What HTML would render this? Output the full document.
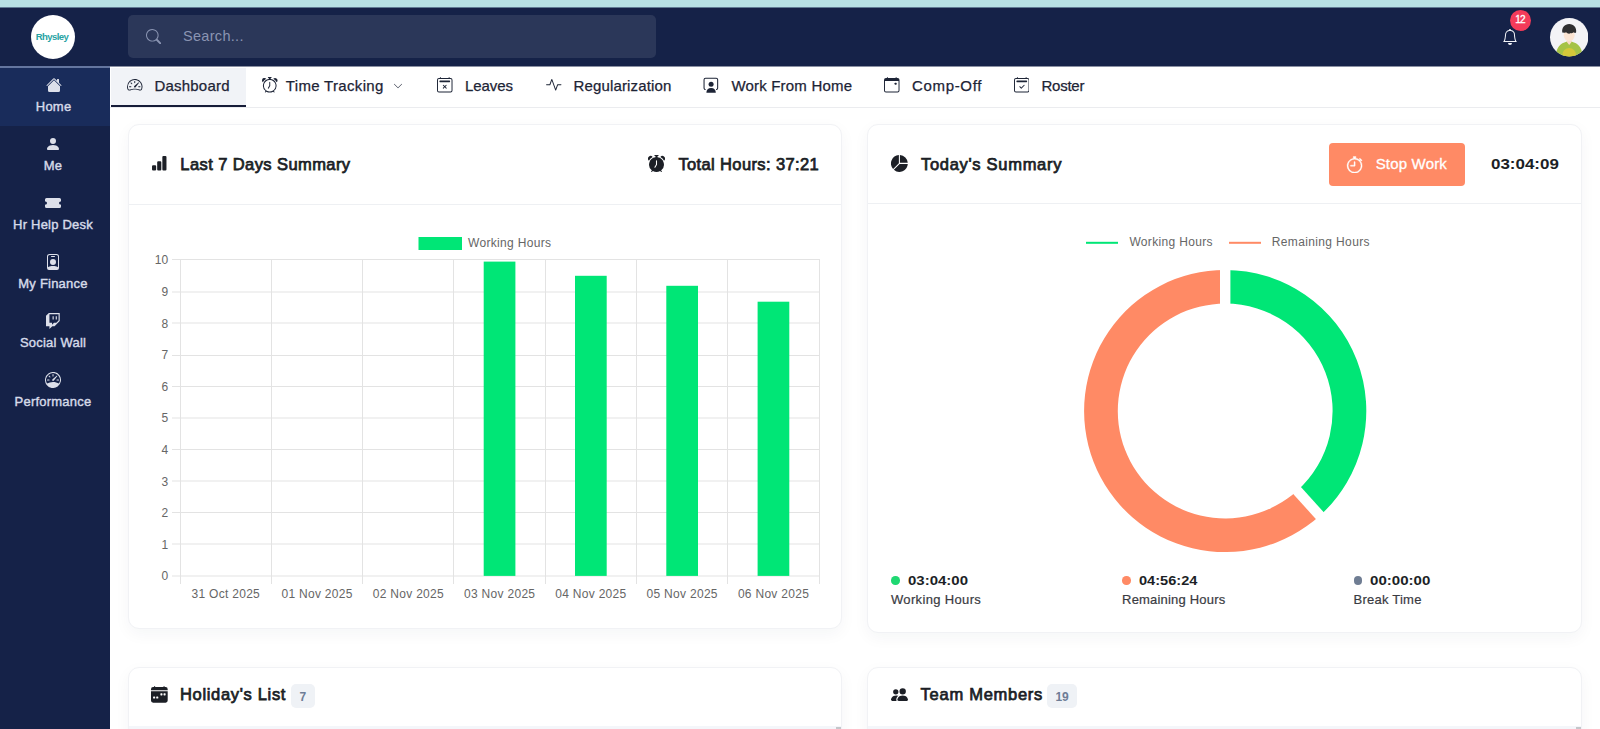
<!DOCTYPE html>
<html lang="en">
<head>
<meta charset="utf-8">
<title>Dashboard</title>
<style>
*{box-sizing:border-box;margin:0;padding:0}
html,body{width:1600px;height:729px;overflow:hidden;background:#fff}
body{position:relative;font-family:"Liberation Sans",sans-serif;color:#1f2937}
.abs{position:absolute}
.t{position:absolute;white-space:nowrap;line-height:1}
#strip{left:0;top:0;width:1600px;height:8px;background:#b7e1e5}
#header{left:0;top:7.1px;width:1600px;height:59.4px;background:#152248}
#sidebar{left:0;top:66px;width:110px;height:663px;background:#152248;border-top:2px solid #64769f}
#sidebar .active{position:absolute;left:0;top:0;width:110px;height:57.6px;background:#192c5b}
.sb{position:absolute;left:0;width:106px;text-align:center;color:#d6dbe9;font-size:13px;line-height:1;white-space:nowrap;letter-spacing:.22px;-webkit-text-stroke:.4px #d6dbe9}
.sbi{position:absolute;fill:#dde0ea}
#logo{left:31px;top:15px;width:44px;height:44px;border-radius:50%;background:#fff}
#search{left:128px;top:15px;width:528px;height:43px;border-radius:5px;background:#2b3759}
#tabs{left:110px;top:66.5px;width:1490px;height:41.5px;background:#fff;border-bottom:1px solid #ebecef}
#tabactive{left:111px;top:68px;width:135.3px;height:39px;background:#f1f3f7;border-bottom:2px solid #161c38}
.tab{color:#1d2436;font-size:15px;-webkit-text-stroke:.25px #1d2436}
.ti{position:absolute;fill:#1d2436}
.card{position:absolute;background:#fff;border:1px solid #f1f2f5;border-radius:11px;box-shadow:0 5px 16px rgba(30,40,80,.045)}
.hd{position:absolute;left:0;right:0;height:1px;background:#eef0f3}
.title{font-weight:400;font-size:16.5px;color:#1c1f26;-webkit-text-stroke:.75px #1c1f26}
.badge{position:absolute;background:#eff2f6;border-radius:5px;color:#6e7d96;font-size:12px;font-weight:700;text-align:center}
</style>
</head>
<body>
<div id="strip" class="abs"></div>
<header id="header" class="abs"></header>
<aside id="sidebar" class="abs"><div class="active"></div></aside>
<div id="logo" class="abs"></div>
<div id="search" class="abs"></div>
<nav id="tabs" class="abs"></nav>
<div id="tabactive" class="abs"></div>
<div class="abs" style="left:0;top:7px;width:1600px;height:1px;background:#5f7b94"></div>
<div class="abs" style="left:110px;top:66px;width:1490px;height:1px;background:#8a90a3"></div>

<!-- header items -->
<div class="t" id="logotxt" style="left:30.3px;top:31.7px;width:44px;text-align:center;font-size:9.6px;font-weight:700;color:#27a3a3;letter-spacing:-0.6px;text-indent:-0.6px">Rhysley</div>
<svg class="abs" style="left:145.5px;top:28.5px;fill:#8a94b2" width="15.5" height="15.5" viewBox="0 0 16 16"><path d="M11.742 10.344a6.5 6.5 0 1 0-1.397 1.398h-.001c.03.04.062.078.098.115l3.85 3.85a1 1 0 0 0 1.415-1.414l-3.850-3.850a1.007 1.007 0 0 0-.115-.100zM12 6.500a5.500 5.500 0 1 1-11 0 5.500 5.500 0 0 1 11 0z"/></svg>
<div class="t" id="searchtxt" style="left:183px;top:29px;font-size:14.5px;letter-spacing:.3px;color:#8a94b2">Search...</div>
<svg class="abs" style="left:1502px;top:29px;fill:#f2f4f8" width="16" height="16" viewBox="0 0 16 16"><path d="M8 16a2 2 0 0 0 2-2H6a2 2 0 0 0 2 2zM8 1.918l-.797.161A4.002 4.002 0 0 0 4 6c0 .628-.134 2.197-.459 3.742-.16.767-.376 1.566-.663 2.258h10.244c-.287-.692-.502-1.490-.663-2.258C12.134 8.197 12 6.628 12 6a4.002 4.002 0 0 0-3.203-3.920L8 1.917zM14.220 12c.223.447.481.801.780 1H1c.299-.199.557-.553.780-1C2.680 10.200 3 6.880 3 6c0-2.420 1.720-4.440 4.005-4.901a1 1 0 1 1 1.990 0A5.002 5.002 0 0 1 13 6c0 .880.320 4.200 1.220 6z"/></svg>
<div class="abs" id="nbadge" style="left:1509.8px;top:9.9px;width:21.4px;height:21.4px;border-radius:50%;background:#f43b5a;color:#fff;font-size:10px;line-height:19px;text-align:center;font-weight:400;-webkit-text-stroke:.3px #fff;letter-spacing:-.6px;text-indent:-.8px">12</div>
<svg class="abs" style="left:1549.8px;top:18.4px" width="38.4" height="38.4" viewBox="0 0 38.4 38.4">
<defs><clipPath id="avc"><circle cx="19.200" cy="19.200" r="19.200"/></clipPath></defs>
<g clip-path="url(#avc)"><rect width="38.400" height="38.400" fill="#f3f3f6"/>
<path d="M5.800 39c0-7.500 3-12.700 8.600-14.600l2.700-.9 2.100 2.600 2.100-2.600 2.700.9c5.600 1.900 8.600 7.100 8.600 14.600z" fill="#a5c346"/>
<ellipse cx="19.200" cy="36.500" rx="6.800" ry="6.500" fill="#d4c83a"/>
<path d="M16.900 20.500h4.600v3.500l-2.300 3-2.300-3z" fill="#f8dcc6"/>
<ellipse cx="19.200" cy="17.300" rx="5.500" ry="5.800" fill="#fbe4d2"/>
<path d="M12.300 14.600c-.9-4.800 2.300-8.600 6.900-8.600s7.800 3.800 6.900 8.600c-.8.500-1.700.3-2.300-.3-.8.800-2 1.100-3 .6-.6.700-1.800 1-2.700.7-.9-.2-1.600-.7-1.900-1.300-.7.500-1.700.6-2.400.2-.5.300-1.100.3-1.500.1z" fill="#2f2f30"/>
</g></svg>

<!-- sidebar items -->
<svg class="sbi" style="left:45.9px;top:76.5px" width="16" height="16" viewBox="0 0 16 16"><path d="M8.707 1.5a1 1 0 0 0-1.414 0L.646 8.146a.5.5 0 0 0 .708.708L8 2.207l6.646 6.647a.5.5 0 0 0 .708-.708L13 5.793V2.5a.5.5 0 0 0-.5-.5h-1a.5.5 0 0 0-.5.5v1.293L8.707 1.5Z"/><path d="m8 3.293 6 6V13.5a1.5 1.5 0 0 1-1.5 1.5h-9A1.5 1.5 0 0 1 2 13.5V9.293l6-6Z"/></svg>
<div class="sb" style="left:0.6px;top:100px">Home</div>
<svg class="sbi" style="left:44.9px;top:135.5px" width="16" height="16" viewBox="0 0 16 16"><path d="M3 14s-1 0-1-1 1-4 6-4 6 3 6 4-1 1-1 1H3Zm5-6a3 3 0 1 0 0-6 3 3 0 0 0 0 6Z"/></svg>
<div class="sb" style="left:0px;top:159px">Me</div>
<svg class="sbi" style="left:44.9px;top:194.5px" width="16" height="16" viewBox="0 0 16 16"><path d="M1.5 3A1.5 1.5 0 0 0 0 4.5V6a.5.5 0 0 0 .5.5 1.5 1.5 0 1 1 0 3 .5.5 0 0 0-.5.5v1.5A1.5 1.5 0 0 0 1.5 13h13a1.5 1.5 0 0 0 1.5-1.5V10a.5.5 0 0 0-.5-.5 1.5 1.5 0 0 1 0-3A.5.5 0 0 0 16 6V4.5A1.5 1.5 0 0 0 14.5 3h-13Z"/></svg>
<div class="sb" style="left:0px;top:218px">Hr Help Desk</div>
<svg class="sbi" style="left:44.9px;top:253.5px" width="16" height="16" viewBox="0 0 16 16"><path d="M6.5 2a.5.5 0 0 0 0 1h3a.5.5 0 0 0 0-1h-3zM11 8a3 3 0 1 1-6 0 3 3 0 0 1 6 0z"/><path d="M4.5 0A2.5 2.5 0 0 0 2 2.5V14a2 2 0 0 0 2 2h8a2 2 0 0 0 2-2V2.5A2.5 2.5 0 0 0 11.5 0h-7zM3 2.5A1.5 1.5 0 0 1 4.5 1h7A1.5 1.5 0 0 1 13 2.5v10.795a4.2 4.2 0 0 0-.776-.492C11.392 12.387 10.063 12 8 12s-3.392.387-4.224.803a4.200 4.200 0 0 0-.776.492V2.500z"/></svg>
<div class="sb" style="left:0px;top:277px">My Finance</div>
<svg class="sbi" style="left:44.9px;top:312.5px" width="16" height="16" viewBox="0 0 16 16"><path d="M3.857 0 1 2.857v10.286h3.429V16l2.857-2.857H9.57L14.714 8V0H3.857zm9.714 7.429-2.285 2.285H9l-2 2v-2H4.429V1.143h9.142v6.286z"/><path d="M11.857 3.143h-1.143V6.570h1.143V3.143zm-3.143 0H7.571V6.570h1.143V3.143z"/></svg>
<div class="sb" style="left:0px;top:336px">Social Wall</div>
<svg class="sbi" style="left:44.9px;top:371.5px" width="16" height="16" viewBox="0 0 16 16"><path d="M8 2a.5.5 0 0 1 .5.5V4a.5.5 0 0 1-1 0V2.5A.5.5 0 0 1 8 2zM3.732 3.732a.5.5 0 0 1 .707 0l.915.914a.5.5 0 1 1-.708.708l-.914-.915a.5.5 0 0 1 0-.707zM2 8a.5.5 0 0 1 .5-.5h1.586a.5.5 0 0 1 0 1H2.5A.5.5 0 0 1 2 8zm9.500 0a.5.5 0 0 1 .5-.5h1.5a.5.5 0 0 1 0 1H12a.5.5 0 0 1-.5-.5zm.754-4.246a.389.389 0 0 0-.527-.02L7.547 7.31A.91.91 0 1 0 8.850 8.569l3.434-4.297a.389.389 0 0 0-.029-.518z"/><path fill-rule="evenodd" d="M6.664 15.889A8 8 0 1 1 9.336.11a8 8 0 0 1-2.672 15.780zm-4.665-4.283A11.945 11.945 0 0 1 8 10c2.186 0 4.236.585 6.001 1.606a7 7 0 1 0-12.002 0z"/></svg>
<div class="sb" style="left:0px;top:395px">Performance</div>

<!-- tabs -->
<svg class="ti" style="left:127px;top:77.4px" width="15.5" height="15.5" viewBox="0 0 16 16"><path d="M8 4a.5.5 0 0 1 .5.5V6a.5.5 0 0 1-1 0V4.5A.5.5 0 0 1 8 4zM3.732 5.732a.5.5 0 0 1 .707 0l.915.914a.5.5 0 1 1-.708.708l-.914-.915a.5.5 0 0 1 0-.707zM2 10a.5.5 0 0 1 .5-.5h1.586a.5.5 0 0 1 0 1H2.5A.5.5 0 0 1 2 10zm9.5 0a.5.5 0 0 1 .5-.5h1.5a.5.5 0 0 1 0 1H12a.5.5 0 0 1-.5-.5zm.754-4.246a.389.389 0 0 0-.527-.02L7.547 9.31a.91.91 0 1 0 1.302 1.258l3.434-4.297a.389.389 0 0 0-.029-.518z"/><path fill-rule="evenodd" d="M0 10a8 8 0 1 1 15.547 2.661c-.442 1.253-1.845 1.602-2.932 1.25C11.309 13.488 9.475 13 8 13c-1.474 0-3.31.488-4.615.911-1.087.352-2.49.003-2.932-1.250A7.988 7.988 0 0 1 0 10zm8-7a7 7 0 0 0-6.603 9.329c.203.575.923.876 1.680.630C4.397 12.533 6.358 12 8 12s3.604.532 4.923.960c.757.245 1.477-.056 1.680-.631A7 7 0 0 0 8 3z"/></svg>
<div class="t tab" style="left:154.4px;top:78px;letter-spacing:0.214px">Dashboard</div>
<svg class="ti" style="left:262px;top:77.4px" width="15.5" height="15.5" viewBox="0 0 16 16"><path d="M8.5 5.5a.5.5 0 0 0-1 0v3.362l-1.429 2.380a.5.5 0 1 0 .858.515l1.500-2.500A.5.5 0 0 0 8.500 9V5.500z"/><path d="M6.500 0a.5.5 0 0 0 0 1H7v1.070a7.001 7.001 0 0 0-3.273 12.474l-.602.602a.5.5 0 0 0 .707.708l.746-.746A6.970 6.970 0 0 0 8 16a6.970 6.970 0 0 0 3.422-.892l.746.746a.5.5 0 0 0 .707-.708l-.601-.602A7.001 7.001 0 0 0 9 2.070V1h.500a.5.5 0 0 0 0-1h-3zm1.038 3.018a6.093 6.093 0 0 1 .924 0 6 6 0 1 1-.924 0zM0 3.500c0 .753.333 1.429.860 1.887A8.035 8.035 0 0 1 4.387 1.860 2.500 2.500 0 0 0 0 3.500zM13.500 1c-.753 0-1.429.333-1.887.860a8.035 8.035 0 0 1 3.527 3.527A2.500 2.500 0 0 0 13.500 1z"/></svg>
<div class="t tab" style="left:285.8px;top:78px;letter-spacing:0.322px">Time Tracking</div>
<svg class="ti" style="left:437px;top:77.4px" width="15.5" height="15.5" viewBox="0 0 16 16"><path d="M6.146 8.146a.5.5 0 0 1 .708 0L8 9.293l1.146-1.147a.5.5 0 1 1 .708.708L8.707 10l1.147 1.146a.5.5 0 0 1-.708.708L8 10.707l-1.146 1.147a.5.5 0 0 1-.708-.708L7.293 10 6.146 8.854a.5.5 0 0 1 0-.708z"/><path d="M3.5 0a.5.5 0 0 1 .5.5V1h8V.5a.5.5 0 0 1 1 0V1h1a2 2 0 0 1 2 2v11a2 2 0 0 1-2 2H2a2 2 0 0 1-2-2V3a2 2 0 0 1 2-2h1V.5a.5.5 0 0 1 .5-.5zM2 2a1 1 0 0 0-1 1v11a1 1 0 0 0 1 1h12a1 1 0 0 0 1-1V3a1 1 0 0 0-1-1H2z"/><path d="M2.5 4a.5.5 0 0 1 .5-.5h10a.5.5 0 0 1 .5.5v1a.5.5 0 0 1-.5.5H3a.5.5 0 0 1-.5-.5V4z"/></svg>
<div class="t tab" style="left:465.1px;top:78px;letter-spacing:-0.096px">Leaves</div>
<svg class="ti" style="left:546px;top:77.4px" width="15.5" height="15.5" viewBox="0 0 16 16"><path fill-rule="evenodd" d="M6 2a.5.5 0 0 1 .47.33L10 12.036l1.530-4.208A.5.5 0 0 1 12 7.500h3.500a.5.5 0 0 1 0 1h-3.150l-1.880 5.170a.5.5 0 0 1-.940 0L6 3.964 4.470 8.171A.5.5 0 0 1 4 8.500H.500a.5.5 0 0 1 0-1h3.150l1.880-5.170A.5.5 0 0 1 6 2Z"/></svg>
<div class="t tab" style="left:573.5px;top:78px;letter-spacing:0.155px">Regularization</div>
<svg class="ti" style="left:703.25px;top:77.1px" width="16" height="16" viewBox="0 0 16 16"><path d="M2.6 12.45H2.55A1.500 1.500 0 0 1 1.050 10.950V2.650A1.500 1.500 0 0 1 2.550 1.150h10.6a1.500 1.500 0 0 1 1.500 1.500v8.300a1.500 1.500 0 0 1-1.500 1.500h-.05" fill="none" stroke="#1d2436" stroke-width="1.05"/><circle cx="8.100" cy="7.300" r="2.500"/><path d="M3.350 15.650c0-2.800 1.900-4.650 4.750-4.650s4.750 1.850 4.750 4.650z"/></svg>
<div class="t tab" style="left:731.4px;top:78px;letter-spacing:0.194px">Work From Home</div>
<svg class="ti" style="left:884.4px;top:77.4px" width="15.5" height="15.5" viewBox="0 0 16 16"><path d="M11 6.5a.5.5 0 0 1 .5-.5h1a.5.5 0 0 1 .5.5v1a.5.5 0 0 1-.5.5h-1a.5.5 0 0 1-.5-.5v-1z"/><path d="M3.5 0a.5.5 0 0 1 .5.5V1h8V.5a.5.5 0 0 1 1 0V1h1a2 2 0 0 1 2 2v11a2 2 0 0 1-2 2H2a2 2 0 0 1-2-2V3a2 2 0 0 1 2-2h1V.5a.5.5 0 0 1 .5-.5zM1 4v10a1 1 0 0 0 1 1h12a1 1 0 0 0 1-1V4H1z"/></svg>
<div class="t tab" style="left:912.0px;top:78px;letter-spacing:0.664px">Comp-Off</div>
<svg class="ti" style="left:1013.5px;top:77.4px" width="15.5" height="15.5" viewBox="0 0 16 16"><path d="M10.854 8.146a.5.5 0 0 1 0 .708l-3 3a.5.5 0 0 1-.708 0l-1.500-1.500a.5.5 0 0 1 .708-.708L7.500 10.793l2.646-2.647a.5.5 0 0 1 .708 0z"/><path d="M3.5 0a.5.5 0 0 1 .5.5V1h8V.5a.5.5 0 0 1 1 0V1h1a2 2 0 0 1 2 2v11a2 2 0 0 1-2 2H2a2 2 0 0 1-2-2V3a2 2 0 0 1 2-2h1V.5a.5.5 0 0 1 .5-.5zM2 2a1 1 0 0 0-1 1v11a1 1 0 0 0 1 1h12a1 1 0 0 0 1-1V3a1 1 0 0 0-1-1H2z"/><path d="M2.5 4a.5.5 0 0 1 .5-.5h10a.5.5 0 0 1 .5.5v1a.5.5 0 0 1-.5.5H3a.5.5 0 0 1-.5-.5V4z"/></svg>
<div class="t tab" style="left:1041.4px;top:78px;letter-spacing:-0.218px">Roster</div>
<svg class="ti" style="left:392.5px;top:81.2px" width="10" height="10" viewBox="0 0 16 16"><path fill-rule="evenodd" d="M1.646 4.646a.5.5 0 0 1 .708 0L8 10.293l5.646-5.647a.5.5 0 0 1 .708.708l-6 6a.5.5 0 0 1-.708 0l-6-6a.5.5 0 0 1 0-.708z"/></svg>

<!-- cards -->
<div class="card" id="c1" style="left:128px;top:124px;width:714px;height:505px"><div class="hd" style="top:79px"></div></div>
<div class="card" id="c2" style="left:867px;top:124px;width:715px;height:509px"><div class="hd" style="top:78px"></div></div>
<div class="card" id="c3" style="left:128px;top:666.5px;width:714px;height:120px"></div>
<div class="card" id="c4" style="left:867px;top:666.5px;width:715px;height:120px"></div>
<!-- card content -->
<svg class="abs" style="left:150.8px;top:155.1px;fill:#1c1f26" width="16.5" height="16.5" viewBox="0 0 16 16"><path d="M1 11a1 1 0 0 1 1-1h2a1 1 0 0 1 1 1v3a1 1 0 0 1-1 1H2a1 1 0 0 1-1-1v-3zm5-4a1 1 0 0 1 1-1h2a1 1 0 0 1 1 1v7a1 1 0 0 1-1 1H7a1 1 0 0 1-1-1V7zm5-5a1 1 0 0 1 1-1h2a1 1 0 0 1 1 1v12a1 1 0 0 1-1 1h-2a1 1 0 0 1-1-1V2z"/></svg>
<div class="t title" style="left:180.3px;top:156px;letter-spacing:0.416px">Last 7 Days Summary</div>
<svg class="abs" style="left:647.5px;top:154.5px;fill:#1c1f26" width="17" height="17" viewBox="0 0 16 16"><path d="M6 .5a.5.5 0 0 1 .5-.5h3a.5.5 0 0 1 0 1H9v1.070a7.001 7.001 0 0 1 3.274 12.474l.601.602a.5.5 0 0 1-.707.708l-.746-.746A6.970 6.970 0 0 1 8 16a6.970 6.970 0 0 1-3.422-.892l-.746.746a.5.5 0 0 1-.707-.708l.602-.602A7.001 7.001 0 0 1 7 2.070V1h-.5A.5.5 0 0 1 6 .5zm2.500 5a.5.5 0 0 0-1 0v3.362l-1.429 2.380a.5.5 0 1 0 .858.515l1.500-2.500A.5.5 0 0 0 8.500 9V5.500zM.860 5.387A2.500 2.500 0 1 1 4.387 1.860 8.035 8.035 0 0 0 .860 5.387zM11.613 1.860a2.500 2.500 0 1 1 3.527 3.527 8.035 8.035 0 0 0-3.527-3.527z"/></svg>
<div class="t title" style="left:678.4px;top:156px;letter-spacing:0.375px">Total Hours: 37:21</div>
<svg class="abs" style="left:890.8px;top:155.1px;fill:#1c1f26" width="16.8" height="16.8" viewBox="0 0 16 16"><path d="M15.985 8.5H8.207l-5.500 5.500a8 8 0 0 0 13.277-5.500zM2 13.292A8 8 0 0 1 7.500.015v7.778l-5.500 5.500zM8.500.015V7.500h7.485A8.001 8.001 0 0 0 8.500.015z"/></svg>
<div class="t title" style="left:921px;top:155.5px;letter-spacing:0.699px">Today's Summary</div>
<div class="abs" style="left:1329.3px;top:142.5px;width:135.5px;height:43px;border-radius:4px;background:#ff8a65"></div>
<svg class="abs" style="left:1345.8px;top:155.7px;fill:#fff;stroke:#fff;stroke-width:.35" width="17.2" height="17.2" viewBox="0 0 16 16"><path d="M8.5 5.6a.5.5 0 1 0-1 0v2.900h-3a.5.5 0 0 0 0 1H8a.5.5 0 0 0 .5-.5V5.600z"/><path d="M6.500 1A.5.5 0 0 1 7 .5h2a.5.5 0 0 1 0 1v.570c1.360.196 2.594.780 3.584 1.640a.715.715 0 0 1 .012-.013l.354-.354-.354-.353a.5.5 0 0 1 .707-.708l1.414 1.415a.5.5 0 1 1-.707.707l-.353-.354-.354.354a.512.512 0 0 1-.013.012A7 7 0 1 1 7 2.071V1.500a.5.5 0 0 1-.5-.5zM8 3a6 6 0 1 0 .001 12A6 6 0 0 0 8 3z"/></svg>
<div class="t" style="left:1375.7px;top:156.1px;font-size:15px;color:#fff;-webkit-text-stroke:.3px #fff;letter-spacing:0.176px">Stop Work</div>
<div class="t" style="left:1491.2px;top:156.1px;font-size:15px;font-weight:700;color:#1c1f26;transform-origin:0 50%;transform:scaleX(1.1297)">03:04:09</div>
<div class="abs" style="left:891.25px;top:576.25px;width:8.5px;height:8.5px;border-radius:50%;background:#1fd872"></div>
<div class="t" style="left:907.7px;top:573.6px;font-size:13px;font-weight:700;color:#1c1f26;transform-origin:0 50%;transform:scaleX(1.1527)">03:04:00</div>
<div class="t" style="left:891.0px;top:593px;font-size:13px;color:#3a3b42;-webkit-text-stroke:.2px #3a3b42;letter-spacing:0.339px">Working Hours</div>
<div class="abs" style="left:1122.45px;top:576.25px;width:8.5px;height:8.5px;border-radius:50%;background:#ff8a65"></div>
<div class="t" style="left:1138.9px;top:573.6px;font-size:13px;font-weight:700;color:#1c1f26;transform-origin:0 50%;transform:scaleX(1.1218)">04:56:24</div>
<div class="t" style="left:1122.1px;top:593px;font-size:13px;color:#3a3b42;-webkit-text-stroke:.2px #3a3b42;letter-spacing:0.190px">Remaining Hours</div>
<div class="abs" style="left:1353.75px;top:576.25px;width:8.5px;height:8.5px;border-radius:50%;background:#6f7d93"></div>
<div class="t" style="left:1370.3px;top:573.6px;font-size:13px;font-weight:700;color:#1c1f26;transform-origin:0 50%;transform:scaleX(1.1585)">00:00:00</div>
<div class="t" style="left:1353.5px;top:593px;font-size:13px;color:#3a3b42;-webkit-text-stroke:.2px #3a3b42;letter-spacing:0.239px">Break Time</div>
<svg class="abs" style="left:151.2px;top:686.2px;fill:#1c1f26" width="16.7" height="16.7" viewBox="0 0 16 16"><path d="M4 .5a.5.5 0 0 0-1 0V1H2a2 2 0 0 0-2 2v1h16V3a2 2 0 0 0-2-2h-1V.5a.5.5 0 0 0-1 0V1H4V.5zM16 14V5H0v9a2 2 0 0 0 2 2h12a2 2 0 0 0 2-2zM9.500 7h1a.5.5 0 0 1 .5.5v1a.5.5 0 0 1-.5.5h-1a.5.5 0 0 1-.5-.5v-1a.5.5 0 0 1 .5-.5zm3 0h1a.5.5 0 0 1 .5.5v1a.5.5 0 0 1-.5.5h-1a.5.5 0 0 1-.5-.5v-1a.5.5 0 0 1 .5-.5zM2 10.500a.5.5 0 0 1 .5-.5h1a.5.5 0 0 1 .5.5v1a.5.5 0 0 1-.5.5h-1a.5.5 0 0 1-.5-.5v-1zm3.500-.5h1a.5.5 0 0 1 .5.5v1a.5.5 0 0 1-.5.5h-1a.5.5 0 0 1-.5-.5v-1a.5.5 0 0 1 .5-.5z"/></svg>
<div class="t title" style="left:180px;top:686px;letter-spacing:0.669px">Holiday's List</div>
<div class="badge" style="left:291px;top:684.4px;width:23.6px;height:23.8px;line-height:26.6px">7</div>
<svg class="abs" style="left:890.8px;top:685.9px;fill:#1c1f26" width="17" height="17" viewBox="0 0 16 16"><path d="M7 14s-1 0-1-1 1-4 5-4 5 3 5 4-1 1-1 1H7Zm4-6a3 3 0 1 0 0-6 3 3 0 0 0 0 6Zm-5.784 6A2.238 2.238 0 0 1 5 13c0-1.355.68-2.75 1.936-3.720A6.325 6.325 0 0 0 5 9c-4 0-5 3-5 4s1 1 1 1h4.216ZM4.500 8a2.500 2.500 0 1 0 0-5 2.500 2.500 0 0 0 0 5Z"/></svg>
<div class="t title" style="left:920.6px;top:686px;letter-spacing:0.727px">Team Members</div>
<div class="badge" style="left:1047.2px;top:684.4px;width:29.8px;height:24px;line-height:26.6px">19</div>
<div class="abs" style="left:129px;top:725.5px;width:712px;height:4px;background:#f4f6fa"></div>
<div class="abs" style="left:868px;top:725.5px;width:713px;height:4px;background:#f4f6fa"></div>
<div class="abs" style="left:836px;top:727px;width:5px;height:2px;background:#c4c6ca"></div>
<div class="abs" style="left:1576px;top:727px;width:5px;height:2px;background:#c4c6ca"></div>

<!-- charts -->
<svg class="abs" style="left:130px;top:205px" width="711" height="424" viewBox="130 205 711 424" font-family="'Liberation Sans',sans-serif" font-size="12" fill="#666">
<g stroke="#e3e3e3" stroke-width="1">
<line x1="172" y1="259.5" x2="820.0" y2="259.5"/>
<line x1="172" y1="292" x2="820.0" y2="292"/>
<line x1="172" y1="323" x2="820.0" y2="323"/>
<line x1="172" y1="355.5" x2="820.0" y2="355.5"/>
<line x1="172" y1="386.5" x2="820.0" y2="386.5"/>
<line x1="172" y1="418" x2="820.0" y2="418"/>
<line x1="172" y1="449.5" x2="820.0" y2="449.5"/>
<line x1="172" y1="481" x2="820.0" y2="481"/>
<line x1="172" y1="512.5" x2="820.0" y2="512.5"/>
<line x1="172" y1="544" x2="820.0" y2="544"/>
<line x1="172" y1="576" x2="820.0" y2="576"/>
<line x1="180.5" y1="259.0" x2="180.5" y2="584"/>
<line x1="271.5" y1="259.0" x2="271.5" y2="584"/>
<line x1="362.5" y1="259.0" x2="362.5" y2="584"/>
<line x1="453.5" y1="259.0" x2="453.5" y2="584"/>
<line x1="545.5" y1="259.0" x2="545.5" y2="584"/>
<line x1="636.5" y1="259.0" x2="636.5" y2="584"/>
<line x1="727.5" y1="259.0" x2="727.5" y2="584"/>
<line x1="819.5" y1="259.0" x2="819.5" y2="584"/>
</g>
<rect x="483.70" y="261.6" width="31.7" height="314.30" fill="#00e676"/>
<rect x="575.00" y="275.8" width="31.7" height="300.10" fill="#00e676"/>
<rect x="666.30" y="285.8" width="31.7" height="290.10" fill="#00e676"/>
<rect x="757.60" y="301.7" width="31.7" height="274.20" fill="#00e676"/>
<text x="168.2" y="580.3" text-anchor="end">0</text>
<text x="168.2" y="548.7" text-anchor="end">1</text>
<text x="168.2" y="517.1" text-anchor="end">2</text>
<text x="168.2" y="485.5" text-anchor="end">3</text>
<text x="168.2" y="453.9" text-anchor="end">4</text>
<text x="168.2" y="422.3" text-anchor="end">5</text>
<text x="168.2" y="390.7" text-anchor="end">6</text>
<text x="168.2" y="359.1" text-anchor="end">7</text>
<text x="168.2" y="327.5" text-anchor="end">8</text>
<text x="168.2" y="295.9" text-anchor="end">9</text>
<text x="168.2" y="264.3" text-anchor="end">10</text>
<text x="225.8" y="598.1" text-anchor="middle" letter-spacing="0.29">31 Oct 2025</text>
<text x="317.1" y="598.1" text-anchor="middle" letter-spacing="0.29">01 Nov 2025</text>
<text x="408.4" y="598.1" text-anchor="middle" letter-spacing="0.29">02 Nov 2025</text>
<text x="499.7" y="598.1" text-anchor="middle" letter-spacing="0.29">03 Nov 2025</text>
<text x="590.9" y="598.1" text-anchor="middle" letter-spacing="0.29">04 Nov 2025</text>
<text x="682.2" y="598.1" text-anchor="middle" letter-spacing="0.29">05 Nov 2025</text>
<text x="773.5" y="598.1" text-anchor="middle" letter-spacing="0.29">06 Nov 2025</text>
<rect x="418.5" y="237" width="43.5" height="13" fill="#00e676"/>
<text x="468" y="246.7" letter-spacing="0.33">Working Hours</text>
</svg>
<svg class="abs" style="left:869px;top:205px" width="712" height="360" viewBox="869 205 712 360" font-family="'Liberation Sans',sans-serif" font-size="12" fill="#666">
<path d="M1225.20 269.90A141.1 141.1 0 0 1 1319.82 515.67L1297.22 490.67A107.4 107.4 0 0 0 1225.20 303.60Z" fill="#00e676"/>
<path d="M1319.82 515.67A141.1 141.1 0 1 1 1225.20 269.90L1225.20 303.60A107.4 107.4 0 1 0 1297.22 490.67Z" fill="#ff8a65"/>
<line x1="1225.20" y1="321.00" x2="1225.20" y2="261.00" stroke="#fff" stroke-width="10.4"/>
<line x1="1285.56" y1="477.76" x2="1325.79" y2="522.27" stroke="#fff" stroke-width="10.4"/>
<rect x="1086" y="241.8" width="32" height="2" fill="#00e676"/>
<text x="1129.4" y="245.9" letter-spacing="0.34">Working Hours</text>
<rect x="1229" y="241.8" width="32" height="2" fill="#ff8a65"/>
<text x="1271.8" y="245.9" letter-spacing="0.36">Remaining Hours</text>
</svg>

</body>
</html>
